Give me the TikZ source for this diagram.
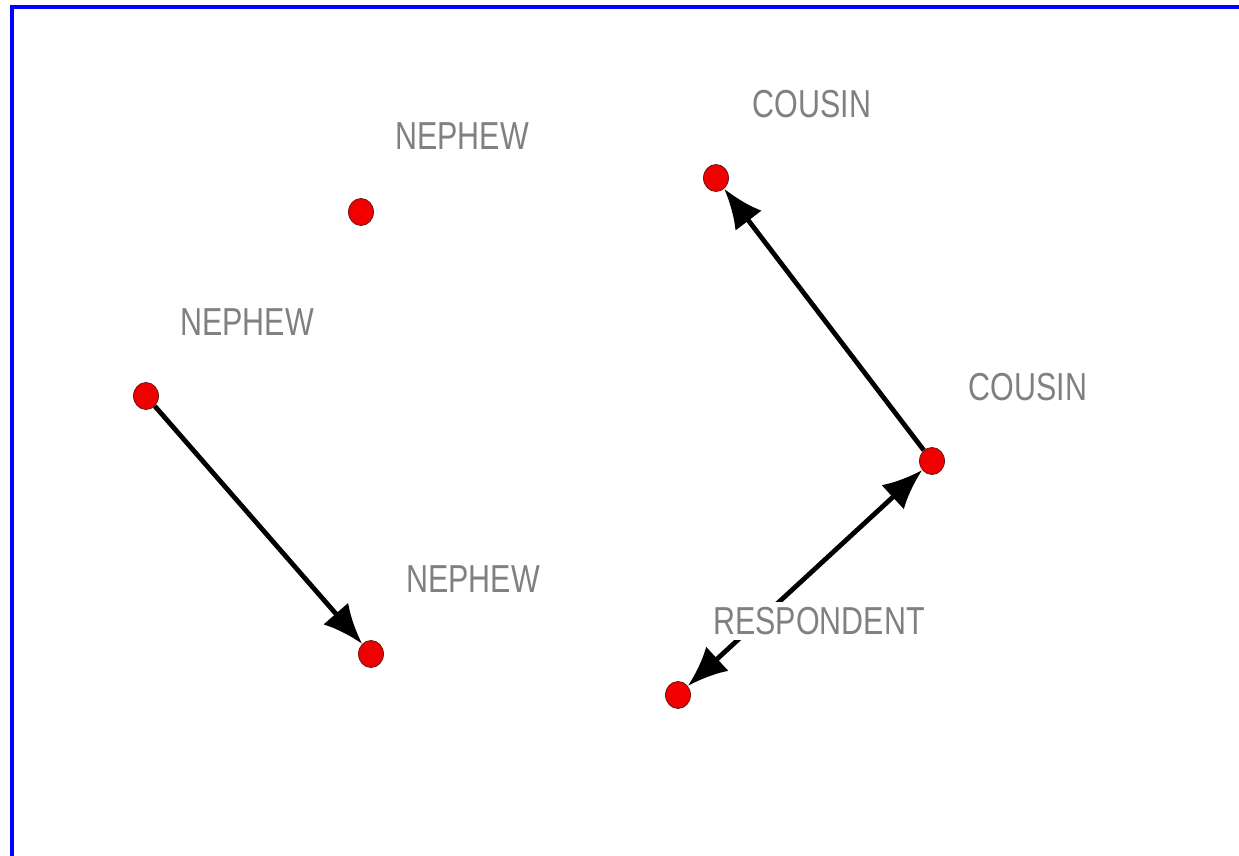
\documentclass[tikz,border=0pt]{standalone}
\usepackage{fontspec}
\newfontfamily\lblfont{Liberation Sans}[FakeStretch=0.78]
\usetikzlibrary{arrows.meta,shapes.geometric}
\definecolor{lblgray}{RGB}{128,128,128}
\definecolor{dotred}{RGB}{240,0,0}
\definecolor{dotedge}{RGB}{110,20,20}
\tikzset{
  vertex/.style={ellipse, draw=dotedge, line width=0.8pt, fill=dotred, minimum width=25pt, minimum height=27pt, inner sep=0pt},
  lbl/.style={text=lblgray, font=\lblfont\fontsize{39}{42}\selectfont, inner sep=2pt},
  tie/.style={draw=black, line width=4.8pt, -{Latex[length=40pt,width=33pt]}},
  tietwo/.style={draw=black, line width=4.8pt, {Latex[length=40pt,width=33pt]}-{Latex[length=40pt,width=33pt]}}
}
\begin{document}
\begin{tikzpicture}[x=1pt,y=-1pt]
\useasboundingbox (0,0) rectangle (1239,856);
\fill[white] (0,0) rectangle (1239,856);
\draw[blue, line width=4pt] (12,900) -- (12,7) -- (1300,7);
% vertices
\node[vertex] (n1) at (361,212) {};
\node[vertex] (n2) at (146,396) {};
\node[vertex] (n3) at (371,654) {};
\node[vertex] (c1) at (716,178) {};
\node[vertex] (c2) at (932,461) {};
\node[vertex] (r) at (678,695) {};
% ties
\draw[tie] (n2) -- (n3);
\draw[tie] (c2) -- (c1);
\draw[tietwo] (r) -- (c2);
% labels
\node[lbl] (ln1) at (462,136) {NEPHEW};
\node[lbl] (ln2) at (247,322) {NEPHEW};
\node[lbl] (ln3) at (473,579) {NEPHEW};
\node[lbl] (lc1) at (812,104) {COUSIN};
\node[lbl] (lc2) at (1028,387) {COUSIN};
\node[lbl, fill=white, inner sep=5pt] (lr) at (819,621) {RESPONDENT};
\end{tikzpicture}
\end{document}
